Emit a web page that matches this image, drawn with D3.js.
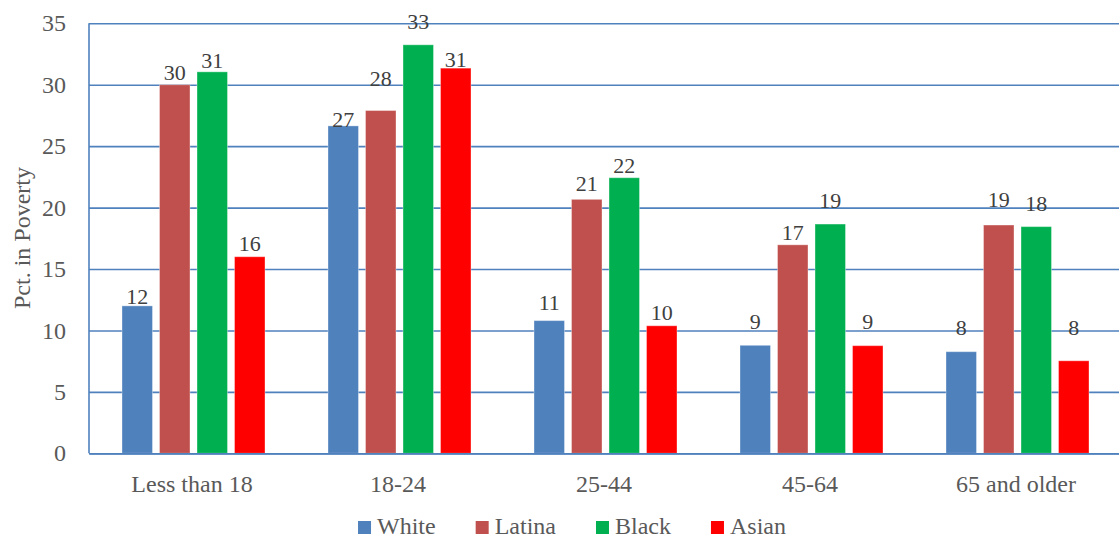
<!DOCTYPE html>
<html>
<head>
<meta charset="utf-8">
<script src="https://cdn.jsdelivr.net/npm/d3@7"></script>
<style>
  html, body { margin: 0; padding: 0; background: #fff; }
  svg { display: block; font-family: "Liberation Serif", "DejaVu Serif", serif; }
</style>
</head>
<body>
<svg id="chart" width="1119" height="538"></svg>
<script>
// Poverty rate (%) by age group and race/ethnicity
const ageGroups = ["Less than 18", "18-24", "25-44", "45-64", "65 and older"];
const seriesNames = ["White", "Latina", "Black", "Asian"];
const seriesColors = ["#4f81bd", "#c0504d", "#00b050", "#ff0000"];

const white  = [12.0, 26.65, 10.8, 8.79, 8.27];
const latina = [30.0, 27.9, 20.67, 16.97, 18.58];
const black  = [31.05, 33.25, 22.43, 18.66, 18.45];
const asian  = [16.0, 31.35, 10.38, 8.76, 7.53];

const yTicks = [0, 5, 10, 15, 20, 25, 30, 35];

// Hand-placed data label offsets above each bar (px), per series
const labelLift = [
  [2, -1, 10.7, 16, 16.7],
  [4.3, 24.7, 8.6, 4.7, 17.7],
  [3.4, 15.4, 4.4, 15.7, 15.3],
  [6, 1.3, 5.7, 16.4, 25.7]
];

const seriesValues = [white, latina, black, asian];

const svg = d3.select("#chart");
const plot = { left: 89, right: 1119, top: 23.3, bottom: 453.3 };
const blue = "#4f81bd";
const textColor = "#595959";

const y = d3.scaleLinear().domain([0, 35]).range([plot.bottom, plot.top]);
const x0 = d3.scaleBand().domain(ageGroups).range([plot.left, plot.right]).padding(0);
const x1 = d3.scaleBand().domain(seriesNames).range([33, 176]).paddingInner(0.187).paddingOuter(0);

// Gridlines and value axis
const yAxis = svg.append("g")
  .attr("transform", `translate(${plot.left},0)`)
  .call(d3.axisLeft(y).tickValues(yTicks).tickSize(-(plot.right - plot.left)).tickPadding(23));
yAxis.select(".domain").remove();
yAxis.selectAll(".tick line").attr("stroke", blue).attr("stroke-width", 1.6);
yAxis.selectAll(".tick text")
  .attr("fill", textColor)
  .style("font-size", "24px")
  .style("font-family", "Liberation Serif, serif");

// Bars
const groups = svg.append("g").selectAll("g")
  .data(ageGroups)
  .join("g")
  .attr("transform", d => `translate(${x0(d)},0)`);

seriesNames.forEach((name, si) => {
  groups.append("rect")
    .attr("x", x1(name))
    .attr("width", x1.bandwidth())
    .attr("y", (d, gi) => y(seriesValues[si][gi]))
    .attr("height", (d, gi) => y(0) - y(seriesValues[si][gi]))
    .attr("fill", seriesColors[si])
    .attr("stroke", "rgba(255,255,255,0.35)")
    .attr("stroke-width", 1);
});

// Data labels
seriesNames.forEach((name, si) => {
  groups.append("text")
    .attr("x", x1(name) + x1.bandwidth() / 2)
    .attr("y", (d, gi) => y(seriesValues[si][gi]) - labelLift[si][gi])
    .attr("text-anchor", "middle")
    .attr("fill", "#404040")
    .style("font-size", "22px")
    .text((d, gi) => Math.round(seriesValues[si][gi]));
});

// Left axis line
svg.append("line")
  .attr("x1", plot.left).attr("x2", plot.left)
  .attr("y1", plot.top).attr("y2", plot.bottom)
  .attr("stroke", blue).attr("stroke-width", 1.6);

// Category axis
const xAxis = svg.append("g")
  .attr("transform", `translate(0,${plot.bottom})`)
  .call(d3.axisBottom(x0).tickSize(0).tickPadding(22));
xAxis.select(".domain").attr("stroke", blue).attr("stroke-width", 1.8);
xAxis.selectAll(".tick text")
  .attr("fill", textColor)
  .style("font-size", "24px")
  .style("font-family", "Liberation Serif, serif");

// Axis title
svg.append("text")
  .attr("transform", "translate(30,238) rotate(-90)")
  .attr("text-anchor", "middle")
  .attr("fill", textColor)
  .style("font-size", "24px")
  .text("Pct. in Poverty");

// Legend
const legend = svg.append("g");
const items = legend.selectAll("g").data(seriesNames).join("g");
items.append("rect")
  .attr("width", 13).attr("height", 13)
  .attr("y", 521)
  .attr("fill", (d, i) => seriesColors[i]);
items.append("text")
  .attr("x", 19)
  .attr("y", 534)
  .attr("fill", textColor)
  .style("font-size", "24px")
  .text(d => d);
let cursor = 0;
const offsets = [];
items.each(function () {
  offsets.push(cursor);
  const w = d3.select(this).select("text").node().getComputedTextLength();
  cursor += 19 + w + 40;
});
const total = cursor - 40;
const startX = 572 - total / 2;
items.attr("transform", (d, i) => `translate(${startX + offsets[i]},0)`);
</script>
</body>
</html>
